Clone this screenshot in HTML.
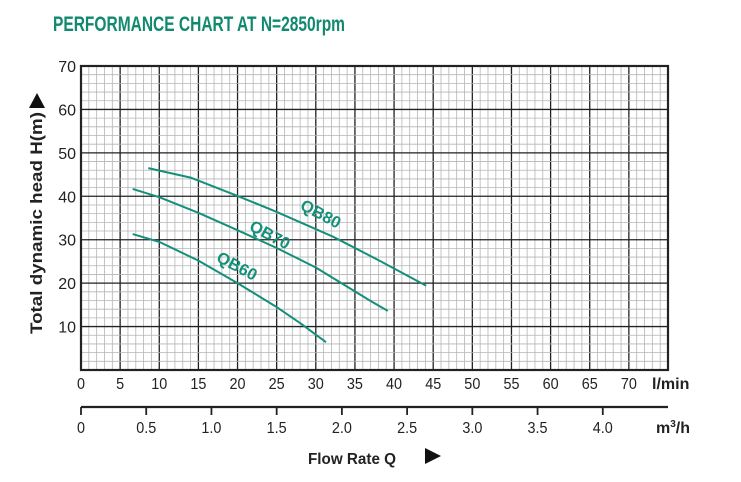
<!DOCTYPE html>
<html><head><meta charset="utf-8"><style>
html,body{margin:0;padding:0;background:#fff;}
body{width:741px;height:477px;overflow:hidden;font-family:"Liberation Sans",Arial,sans-serif;}
</style></head><body>
<svg id="chart" width="741" height="477" xmlns="http://www.w3.org/2000/svg">
<text x="53" y="31" font-size="21" font-weight="bold" fill="#11896f" font-family="Liberation Sans, Arial, sans-serif" textLength="292" lengthAdjust="spacingAndGlyphs">PERFORMANCE CHART AT N=2850rpm</text>
<g id="grid"></g>
<g id="curves"></g>
<g id="axes"></g>
</svg>
<script>
const xTicksLmin = [0,5,10,15,20,25,30,35,40,45,50,55,60,65,70];
const xTicksM3h = ["0","0.5","1.0","1.5","2.0","2.5","3.0","3.5","4.0"];
const yTicks = [10,20,30,40,50,60,70];
const seriesNames = ["QB80","QB70","QB60"];
const qb80Flow = [8.6,14,20,25,32.2,38,44.1];
const qb80Head = [46.5,44.3,40.1,36.4,30.7,25.3,19.4];
const qb70Flow = [6.6,10,15,20,25,30,36.9,39.2];
const qb70Head = [41.7,39.8,36.2,32.2,28.1,23.6,16,13.6];
const qb60Flow = [6.6,10,15,20,24.9,28,31.3];
const qb60Head = [31.3,29.5,25.2,20,14.6,10.8,6.4];

const NS="http://www.w3.org/2000/svg";
const L=81,R=668,T=66,B=370,XMAX=75,YMAX=70;
const sx=v=>L+(R-L)*v/XMAX;
const sy=v=>B-(B-T)*v/YMAX;
function mk(tag,parent,attrs){const e=document.createElementNS(NS,tag);for(const k in attrs)e.setAttribute(k,attrs[k]);parent.appendChild(e);return e;}
const grid=document.getElementById('grid'),axes=document.getElementById('axes'),curves=document.getElementById('curves');
for(let i=0;i<=XMAX;i++){const l=mk('line',grid,{x1:sx(i),x2:sx(i),y1:T,y2:B,stroke:i%5?'#b5b5b5':'#222','stroke-width':i%5?0.8:1.3});

}
for(let j=0;j<=YMAX;j+=2){const l=mk('line',grid,{x1:L,x2:R,y1:sy(j),y2:sy(j),stroke:j%10?'#b5b5b5':'#222','stroke-width':j%10?0.8:1.3});

}
const fr=mk('rect',grid,{x:L,y:T,width:R-L,height:B-T,fill:'none',stroke:'#222','stroke-width':2.2});


yTicks.forEach(v=>{const t=mk('text',axes,{x:76,y:sy(v)+6,'text-anchor':'end','font-size':16,fill:'#222'});t.textContent=v;

});
const yt=mk('text',axes,{x:0,y:0,transform:'translate(42,223) rotate(-90)','text-anchor':'middle','font-size':16.5,'font-weight':'bold',fill:'#222',textLength:222,lengthAdjust:'spacingAndGlyphs'});
yt.textContent='Total dynamic head H(m)';


const ya=mk('polygon',axes,{points:'29,108 45,108 37,93',fill:'#111'});


xTicksLmin.forEach(v=>{const t=mk('text',axes,{x:sx(v),y:389,'text-anchor':'middle','font-size':16,fill:'#222',transform:`translate(${sx(v)*0.1} 0) scale(0.9 1)`});t.setAttribute('x',sx(v));t.textContent=v;

});
const u1=mk('text',axes,{x:652,y:389,'font-size':16,'font-weight':'bold',fill:'#222'});u1.textContent='l/min';


const al=mk('line',axes,{x1:L,x2:R,y1:407,y2:407,stroke:'#222','stroke-width':2.2});


xTicksM3h.forEach(s=>{const v=parseFloat(s)*1000/60;const x=sx(v);
const tk=mk('line',axes,{x1:x,x2:x,y1:407,y2:415,stroke:'#222','stroke-width':1.8});


const t=mk('text',axes,{x:x,y:433,'text-anchor':'middle','font-size':16,fill:'#222',transform:`translate(${x*0.1} 0) scale(0.9 1)`});t.textContent=s;

});
const u2=mk('text',axes,{x:656,y:433,'font-size':16,'font-weight':'bold',fill:'#222'});u2.innerHTML='m<tspan dy="-6" font-size="10">3</tspan><tspan dy="6">/h</tspan>';


const xt=mk('text',axes,{x:308,y:464,'font-size':16,'font-weight':'bold',fill:'#222',textLength:88,lengthAdjust:'spacingAndGlyphs'});xt.textContent='Flow Rate Q';


const xa=mk('polygon',axes,{points:'425,448 425,464 441,456',fill:'#111'});


const flows=[qb80Flow,qb70Flow,qb60Flow],heads=[qb80Head,qb70Head,qb60Head];
const labelAt=[[30.3,34.8],[23.8,30],[19.6,22.8]];
seriesNames.forEach((n,i)=>{
 const pts=flows[i].map((f,k)=>sx(f).toFixed(1)+','+sy(heads[i][k]).toFixed(1)).join(' ');
 const p=mk('polyline',curves,{points:pts,fill:'none',stroke:'#14907a','stroke-width':2,'stroke-linejoin':'round'});
 
 
 const lx=sx(labelAt[i][0]),ly=sy(labelAt[i][1]);
 const t=mk('text',curves,{x:lx,y:ly,transform:`rotate(28 ${lx} ${ly})`,'text-anchor':'middle','font-size':16.5,'font-weight':'bold',fill:'#14907a'});
 t.textContent=n;
 
 
});
</script>
</body></html>
